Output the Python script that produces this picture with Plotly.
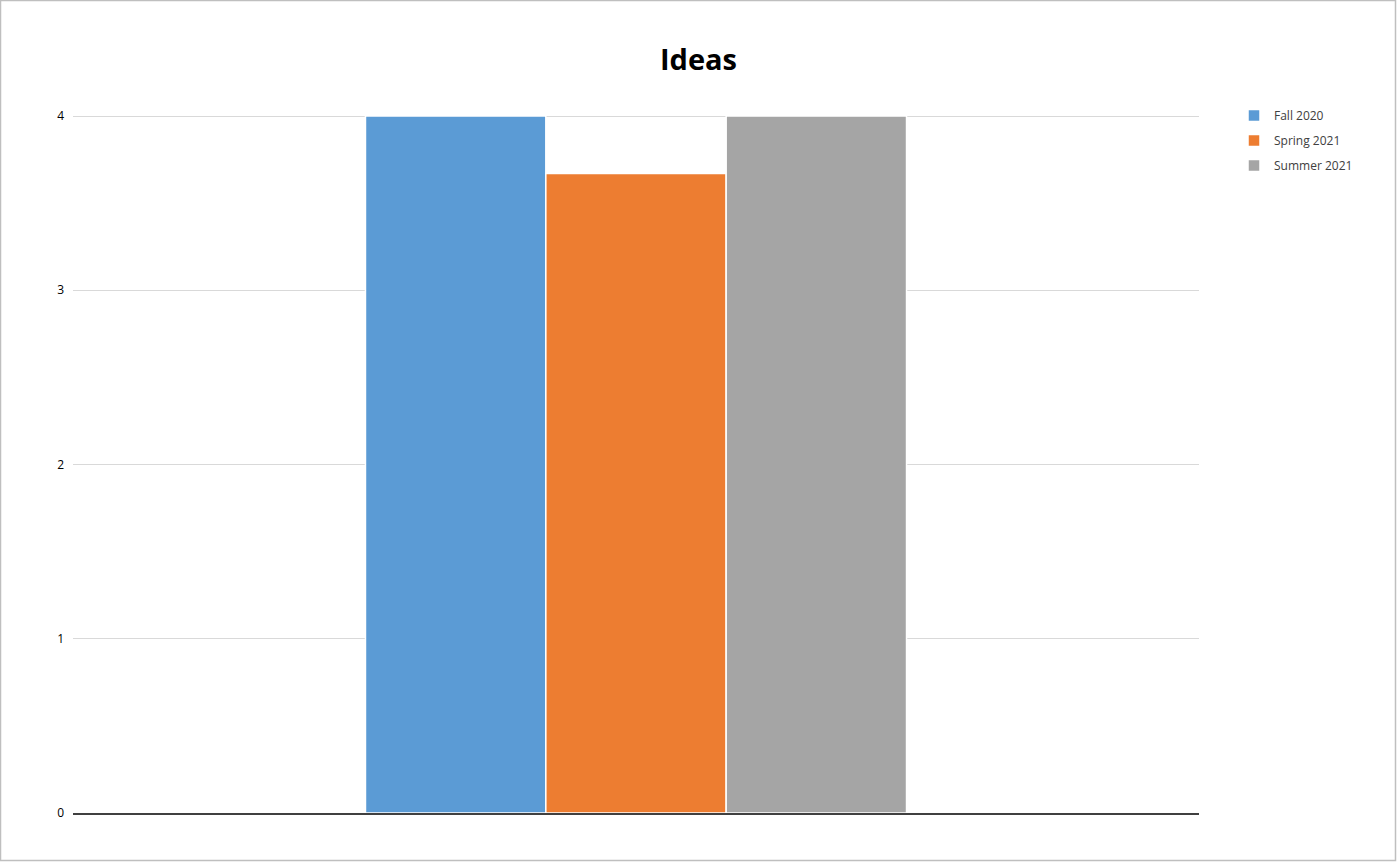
import plotly.graph_objects as go

categories = [""]
series_names = ["Fall 2020", "Spring 2021", "Summer 2021"]
fall_2020 = [4]
spring_2021 = [3.67]
summer_2021 = [4]
y_ticks = [0, 1, 2, 3, 4]
colors = ["#5B9BD5", "#ED7D31", "#A5A5A5"]

values = [fall_2020, spring_2021, summer_2021]

fig = go.Figure()
for name, vals, col in zip(series_names, values, colors):
    fig.add_trace(go.Bar(
        x=categories, y=vals, name=name, legendgroup=name,
        marker=dict(color=col, line=dict(color="white", width=1.5)),
        hoverinfo="y+name",
    ))

W, H = 1397, 862
L, R, T, B = 73, 198, 112, 49
pw, ph = W - L - R, H - T - B
y_top = 4 * ph / (H - B - 116)  # value 4 sits at pixel row 116

def px(x):
    return (x - L) / pw

def py(y):
    return (H - B - y) / ph

fig.update_layout(
    width=W, height=H,
    margin=dict(l=L, r=R, t=T, b=B),
    paper_bgcolor="white", plot_bgcolor="white",
    barmode="group", bargap=0.5195, bargroupgap=0.0,
    title=dict(text="<b>Ideas</b>", x=0.5, xanchor="center", y=1 - 60 / H, yanchor="middle",
               font=dict(family="Open Sans", size=29, color="#000000")),
    font=dict(family="Open Sans", size=12, color="#404040"),
    legend=dict(x=px(1234), y=py(101), xanchor="left", yanchor="top",
                font=dict(family="Open Sans", size=12, color="#404040"),
                tracegroupgap=6, bgcolor="rgba(0,0,0,0)"),
    xaxis=dict(showticklabels=False, showgrid=False, showline=True,
               linecolor="#404040", linewidth=1.5, zeroline=False, ticks=""),
    yaxis=dict(range=[0, y_top], tickvals=y_ticks, showgrid=True, gridcolor="#D9D9D9",
               gridwidth=1, zeroline=False, showline=False, ticks="",
               ticklabelstandoff=8, tickfont=dict(size=12, color="#000000")),
    shapes=[dict(type="rect", xref="paper", yref="paper",
                 x0=px(0.5), x1=px(W - 1.5), y0=py(H - 1.5), y1=py(0.5),
                 line=dict(color="#BFBFBF", width=1.5), fillcolor="rgba(0,0,0,0)", layer="below")],
)

fig.write_html("out.html", config={"displayModeBar": False},
               post_script="document.body.style.margin='0';document.body.style.overflow='hidden';")
